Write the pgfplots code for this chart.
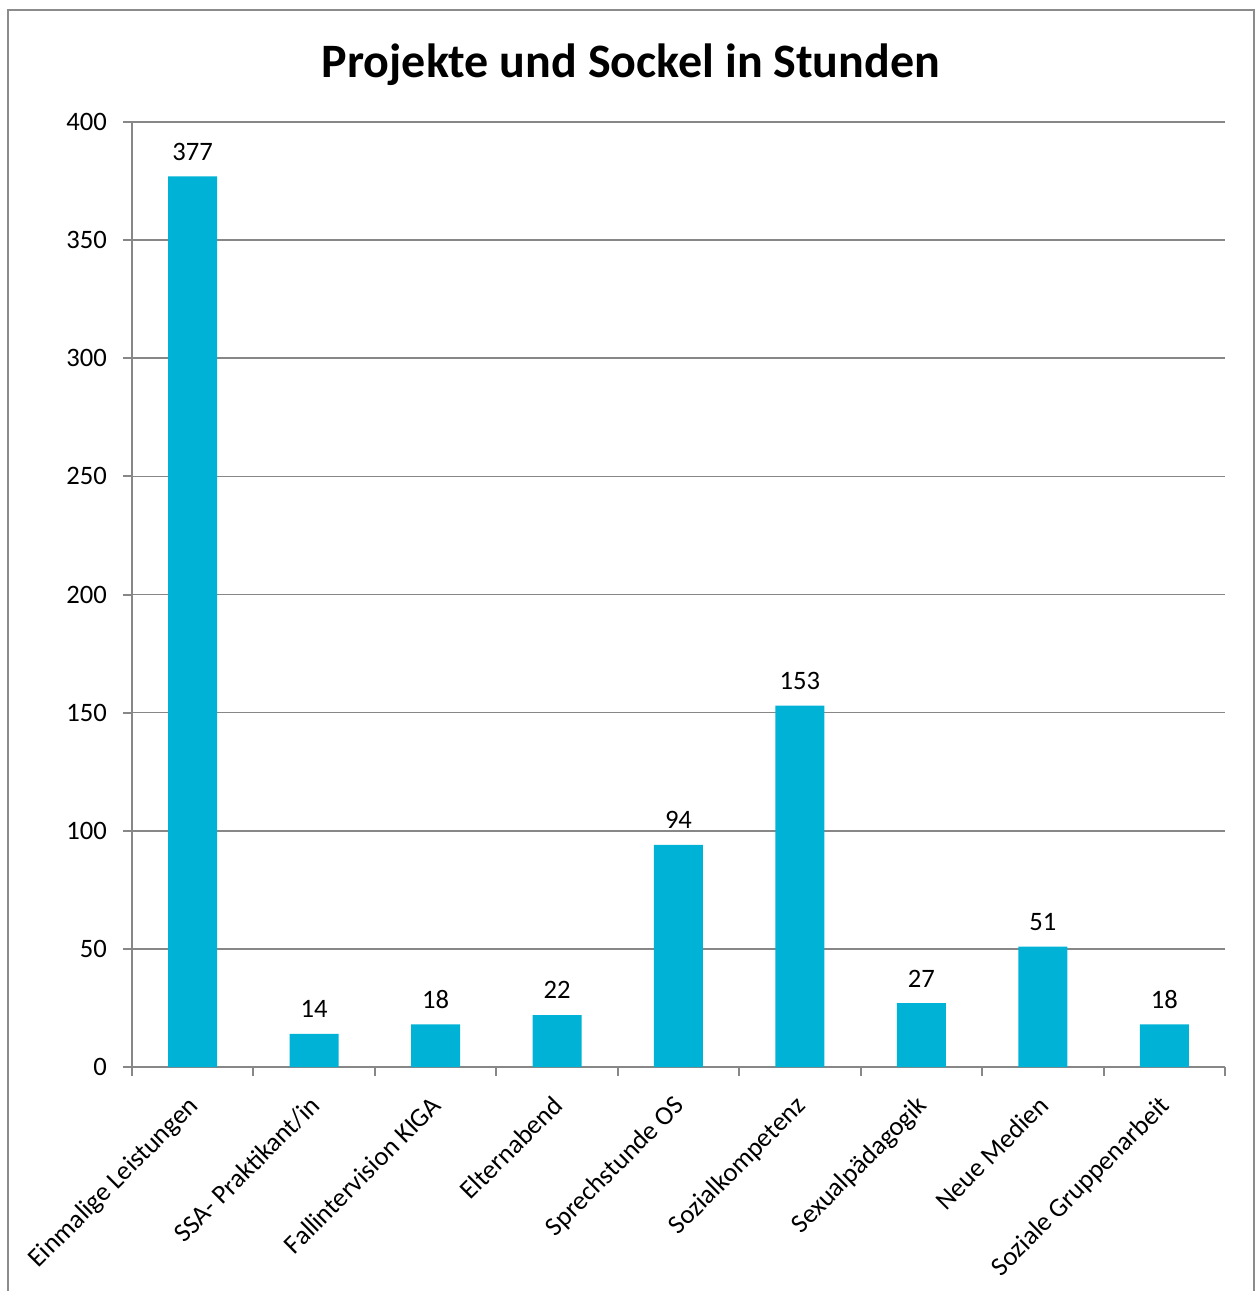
\documentclass[border=0pt]{standalone}
\usepackage{pgfplots}
\pgfplotsset{compat=1.18}
\usepackage{fontspec}
\setmainfont{Carlito}
\definecolor{barc}{HTML}{00B2D6}
\definecolor{gridc}{HTML}{878787}
\definecolor{framec}{HTML}{8C8C8C}
\begin{document}
\begin{tikzpicture}[x=1pt,y=1pt]
\useasboundingbox (0,0) rectangle (627.5,-645.5);
\draw[framec, line width=1.2pt] (4,-645.5) -- (4,-5) -- (627,-5) -- (627,-645.5);
\node[font=\fontsize{24}{29}\selectfont\bfseries, anchor=base] at (315.5,-38.5) {Projekte und Sockel in Stunden};
\begin{axis}[
  at={(66pt,-533.5pt)}, anchor=south west,
  scale only axis, width=546.5pt, height=472.5pt,
  xmin=-0.5, xmax=8.5, ymin=0, ymax=400,
  ytick={0,50,...,400},
  xtick={0,...,8},
  xticklabels={Einmalige Leistungen, SSA- Praktikant/in, Fallintervision KIGA, Elternabend, Sprechstunde OS, Sozialkompetenz, Sexualpädagogik, Neue Medien, Soziale Gruppenarbeit},
  minor xtick={-0.5,0.5,...,8.5},
  major x tick style={draw=none},
  minor tick length=4.5pt,
  major tick length=4.5pt,
  tick align=outside,
  axis x line*=bottom, axis y line*=left,
  axis line style={gridc, line width=1pt},
  every tick/.style={gridc, line width=1pt},
  ymajorgrids, major grid style={gridc, line width=0.8pt},
  /pgf/number format/assume math mode=true,
  tick label style={font=\fontsize{13.3}{16}\selectfont},
  xticklabel style={xshift=-3pt, yshift=-6pt, rotate=45, anchor=north east, inner sep=2pt},
  yticklabel style={xshift=-4.5pt},
  ybar, bar width=24.5pt,
  nodes near coords,
  every node near coord/.append style={font=\fontsize{13.3}{16}\selectfont, yshift=4.5pt},
  clip=false,
]
\addplot[fill=barc, draw=none] coordinates {(0,377) (1,14) (2,18) (3,22) (4,94) (5,153) (6,27) (7,51) (8,18)};
\end{axis}
\end{tikzpicture}
\end{document}
